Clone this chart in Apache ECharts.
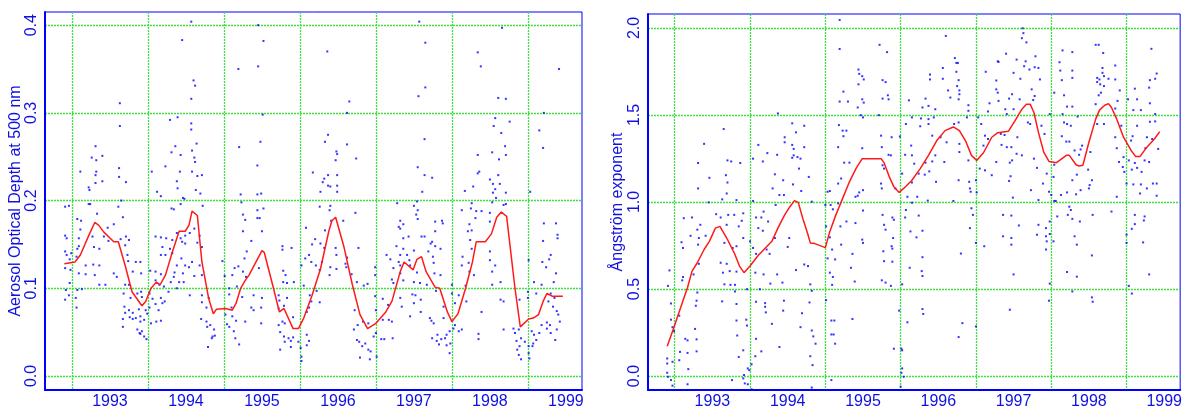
<!DOCTYPE html>
<html>
<head>
<meta charset="utf-8">
<script src="https://cdn.jsdelivr.net/npm/echarts@6.0.0/dist/echarts.min.js"></script>
<style>
html,body{margin:0;padding:0;background:#fff;}
#chart{width:1185px;height:410px;}
</style>
</head>
<body>
<div id="chart"></div>
<script>
// tick positions
var yearLines = [1993, 1994, 1995, 1996, 1997, 1998, 1999];
var yearLabels = [1993.5, 1994.5, 1995.5, 1996.5, 1997.5, 1998.5, 1999.5];
var aodTicks = [0, 0.1, 0.2, 0.3, 0.4];
var angTicks = [0, 0.5, 1, 1.5, 2];

// aerosol optical depth, smoothed curve
var aodSmooth = [
[1992.90,0.128],[1993.04,0.130],[1993.11,0.138],[1993.22,0.160],[1993.30,0.175],[1993.35,0.172],
[1993.42,0.164],[1993.55,0.153],[1993.61,0.153],[1993.70,0.126],[1993.79,0.096],[1993.92,0.080],
[1993.97,0.085],[1994.04,0.100],[1994.11,0.107],[1994.16,0.104],[1994.23,0.115],[1994.32,0.141],
[1994.41,0.165],[1994.49,0.165],[1994.54,0.172],[1994.58,0.188],[1994.65,0.183],[1994.71,0.130],
[1994.80,0.088],[1994.86,0.071],[1994.90,0.076],[1995.02,0.077],[1995.11,0.075],[1995.16,0.083],
[1995.22,0.100],[1995.28,0.109],[1995.33,0.115],[1995.50,0.143],[1995.53,0.141],[1995.64,0.104],
[1995.73,0.073],[1995.79,0.077],[1995.91,0.054],[1995.98,0.054],[1996.05,0.066],[1996.16,0.092],
[1996.27,0.122],[1996.38,0.165],[1996.42,0.177],[1996.47,0.181],[1996.58,0.147],[1996.69,0.104],
[1996.79,0.070],[1996.89,0.054],[1997.00,0.060],[1997.13,0.073],[1997.21,0.085],[1997.32,0.119],
[1997.37,0.130],[1997.49,0.121],[1997.54,0.133],[1997.60,0.136],[1997.66,0.119],[1997.78,0.101],
[1997.84,0.100],[1997.94,0.073],[1998.00,0.062],[1998.08,0.071],[1998.18,0.100],[1998.27,0.130],
[1998.32,0.153],[1998.44,0.153],[1998.52,0.162],[1998.59,0.181],[1998.65,0.187],[1998.72,0.182],
[1998.83,0.100],[1998.90,0.056],[1999.01,0.065],[1999.07,0.066],[1999.14,0.070],[1999.20,0.085],
[1999.25,0.094],[1999.32,0.091],[1999.46,0.091]
];

// aerosol optical depth, daily values 1992-1994
var aodDots1 = [
[1994.57,0.404],[1994.45,0.383],[1994.60,0.337],[1994.62,0.331],[1994.57,0.316],[1993.63,0.311],
[1994.39,0.295],[1994.29,0.292],[1994.57,0.288],[1993.63,0.285],[1994.57,0.281],[1994.64,0.265],
[1994.36,0.262],[1993.31,0.262],[1994.31,0.255],[1994.58,0.257],[1994.43,0.252],[1993.40,0.251],
[1993.26,0.249],[1994.61,0.249],[1993.32,0.246],[1994.62,0.244],[1994.23,0.239],[1993.62,0.237],
[1993.11,0.233],[1994.05,0.233],[1993.32,0.233],[1994.42,0.233],[1994.58,0.233],[1993.31,0.229],
[1993.62,0.227],[1994.65,0.228],[1994.71,0.229],[1994.38,0.222],[1993.40,0.222],[1993.31,0.220],
[1993.71,0.221],[1993.22,0.215],[1994.39,0.214],[1993.23,0.212],[1994.12,0.210],[1994.63,0.212],
[1994.69,0.208],[1994.17,0.205],[1994.48,0.202],[1993.65,0.200],[1994.46,0.203],[1993.22,0.196],
[1993.24,0.196],[1994.43,0.196],[1993.61,0.193],[1992.96,0.194],[1992.91,0.193],[1994.31,0.191],
[1994.34,0.190],[1994.72,0.194],[1993.33,0.185],[1993.12,0.177],[1993.07,0.179],[1993.67,0.181],
[1993.47,0.169],[1993.55,0.173],[1993.11,0.167],[1992.91,0.160],[1992.93,0.157],[1993.27,0.159],
[1993.42,0.159],[1994.10,0.159],[1994.24,0.157],[1994.17,0.158],[1993.71,0.159],[1993.64,0.156],
[1994.32,0.155],[1993.75,0.155],[1993.09,0.157],[1994.38,0.163],[1994.43,0.157],[1994.49,0.160],
[1994.55,0.163],[1994.61,0.168],[1994.68,0.160],[1993.48,0.154],[1993.09,0.148],[1993.07,0.145],
[1993.70,0.149],[1993.29,0.147],[1993.36,0.145],[1994.49,0.151],[1994.45,0.153],[1994.65,0.152],
[1994.71,0.147],[1994.19,0.147],[1994.29,0.145],[1992.91,0.142],[1992.93,0.138],[1992.99,0.140],
[1993.06,0.136],[1993.73,0.138],[1994.17,0.138],[1994.23,0.138],[1994.32,0.140],[1994.44,0.134],
[1994.58,0.130],[1994.68,0.126],[1992.97,0.133],[1993.74,0.131],[1993.84,0.130],[1993.90,0.130],
[1993.18,0.126],[1993.28,0.127],[1993.36,0.126],[1994.38,0.126],[1994.49,0.126],[1994.54,0.124],
[1992.91,0.123],[1992.98,0.121],[1993.09,0.117],[1993.18,0.116],[1993.30,0.115],[1993.55,0.117],
[1993.59,0.113],[1993.80,0.119],[1993.91,0.117],[1994.03,0.120],[1994.10,0.119],[1994.17,0.116],
[1994.35,0.118],[1994.46,0.117],[1994.34,0.113],[1994.61,0.114],[1994.71,0.115],[1992.97,0.106],
[1993.44,0.104],[1993.36,0.104],[1993.70,0.104],[1993.75,0.104],[1994.10,0.109],[1994.15,0.104],
[1994.21,0.102],[1994.27,0.096],[1994.30,0.107],[1994.41,0.107],[1994.47,0.107],[1994.38,0.100],
[1992.92,0.098],[1993.07,0.098],[1993.13,0.099],[1992.96,0.092],[1993.05,0.089],[1992.91,0.087],
[1993.06,0.078],[1993.86,0.094],[1993.91,0.096],[1994.02,0.094],[1993.92,0.090],[1993.77,0.089],
[1993.68,0.094],[1994.06,0.088],[1994.17,0.089],[1994.19,0.083],[1994.10,0.082],[1994.22,0.085],
[1994.55,0.092],[1994.71,0.092],[1994.71,0.084],[1994.77,0.078],[1994.80,0.089],[1993.69,0.079],
[1993.75,0.075],[1993.70,0.072],[1993.80,0.072],[1993.88,0.076],[1993.97,0.075],[1994.02,0.078],
[1993.99,0.071],[1994.14,0.075],[1993.76,0.067],[1993.80,0.065],[1993.84,0.066],[1993.90,0.068],
[1993.95,0.064],[1993.90,0.062],[1993.67,0.065],[1994.04,0.060],[1994.11,0.062],[1994.17,0.063],
[1994.70,0.065],[1994.77,0.062],[1994.78,0.056],[1994.82,0.058],[1994.87,0.053],[1994.85,0.045],
[1994.88,0.046],[1994.84,0.043],[1994.79,0.033],[1993.67,0.056],[1993.86,0.053],[1993.89,0.049],
[1993.92,0.051],[1993.95,0.045],[1993.98,0.042],[1993.90,0.048]
];

// aerosol optical depth, daily values 1995-1996
var aodDots2 = [
[1995.45,0.400],[1995.52,0.382],[1995.19,0.350],[1995.45,0.353],[1996.36,0.370],[1996.65,0.313],
[1996.62,0.300],[1995.51,0.298],[1996.37,0.275],[1996.33,0.267],[1995.48,0.267],[1995.20,0.261],
[1996.62,0.264],[1996.48,0.256],[1996.49,0.253],[1996.74,0.248],[1996.47,0.246],[1995.44,0.240],
[1996.17,0.232],[1996.37,0.229],[1996.32,0.225],[1996.49,0.229],[1996.30,0.221],[1996.37,0.217],
[1996.40,0.216],[1996.49,0.217],[1996.27,0.210],[1996.49,0.210],[1995.22,0.207],[1995.44,0.207],
[1995.49,0.208],[1995.23,0.198],[1995.25,0.184],[1995.44,0.189],[1995.52,0.191],[1996.26,0.193],
[1996.40,0.194],[1996.39,0.189],[1996.73,0.186],[1997.28,0.197],[1995.28,0.178],[1995.44,0.180],
[1995.47,0.180],[1996.41,0.177],[1996.57,0.177],[1997.32,0.177],[1995.25,0.165],[1995.50,0.165],
[1996.08,0.169],[1996.33,0.166],[1997.30,0.170],[1995.36,0.154],[1996.20,0.156],[1996.27,0.151],
[1995.77,0.148],[1995.89,0.146],[1996.16,0.150],[1996.32,0.146],[1996.47,0.146],[1996.77,0.146],
[1997.27,0.148],[1995.30,0.142],[1995.27,0.134],[1995.77,0.144],[1996.12,0.138],[1996.07,0.134],
[1996.15,0.130],[1996.48,0.138],[1996.62,0.135],[1996.60,0.128],[1997.14,0.138],[1997.19,0.133],
[1997.30,0.130],[1994.98,0.131],[1995.19,0.125],[1995.14,0.123],[1995.46,0.123],[1996.02,0.126],
[1996.21,0.126],[1996.26,0.121],[1996.29,0.130],[1996.40,0.124],[1996.48,0.122],[1996.61,0.124],
[1996.99,0.124],[1997.23,0.123],[1995.25,0.119],[1995.78,0.120],[1995.81,0.115],[1995.01,0.114],
[1995.11,0.115],[1995.29,0.113],[1996.39,0.115],[1996.68,0.116],[1996.99,0.115],[1997.21,0.110],
[1995.07,0.100],[1995.17,0.102],[1995.78,0.107],[1995.83,0.106],[1995.92,0.107],[1996.05,0.103],
[1996.22,0.097],[1996.75,0.107],[1996.84,0.103],[1996.89,0.105],[1997.23,0.106],[1995.07,0.093],
[1995.24,0.090],[1995.39,0.092],[1995.50,0.089],[1995.72,0.092],[1995.83,0.089],[1996.13,0.092],
[1996.15,0.085],[1996.26,0.084],[1996.99,0.091],[1997.09,0.088],[1997.16,0.081],[1995.10,0.078],
[1995.36,0.078],[1995.49,0.078],[1995.39,0.075],[1995.73,0.086],[1995.79,0.080],[1995.72,0.077],
[1996.09,0.073],[1996.12,0.078],[1996.72,0.075],[1997.00,0.075],[1995.02,0.070],[1995.11,0.068],
[1995.16,0.063],[1995.28,0.062],[1995.49,0.060],[1995.04,0.059],[1995.07,0.056],[1995.77,0.062],
[1995.72,0.058],[1995.80,0.060],[1995.91,0.067],[1996.83,0.062],[1996.90,0.060],[1996.76,0.058],
[1997.09,0.064],[1997.17,0.064],[1997.21,0.062],[1995.13,0.051],[1995.15,0.043],[1995.20,0.036],
[1995.74,0.050],[1995.79,0.045],[1995.85,0.043],[1995.88,0.040],[1995.91,0.044],[1995.80,0.039],
[1995.74,0.030],[1995.88,0.033],[1995.98,0.039],[1996.01,0.032],[1996.02,0.022],[1996.02,0.017],
[1996.09,0.047],[1996.12,0.040],[1996.09,0.035],[1996.71,0.053],[1996.75,0.041],[1996.78,0.039],
[1996.82,0.034],[1996.86,0.037],[1996.90,0.030],[1996.93,0.028],[1996.79,0.021],[1996.92,0.019],
[1997.01,0.022],[1997.00,0.049],[1997.07,0.042],[1997.11,0.042],[1997.22,0.043],[1996.97,0.045]
];

// aerosol optical depth, daily values 1997-1999
var aodDots3 = [
[1997.57,0.404],[1998.66,0.397],[1997.65,0.380],[1998.34,0.369],[1998.38,0.353],[1999.41,0.350],
[1997.65,0.329],[1997.56,0.319],[1998.61,0.317],[1998.71,0.316],[1999.21,0.300],[1998.57,0.294],
[1998.76,0.290],[1998.55,0.285],[1999.15,0.280],[1998.65,0.277],[1997.64,0.270],[1998.70,0.262],
[1999.20,0.260],[1998.34,0.252],[1998.53,0.255],[1998.71,0.252],[1998.62,0.247],[1997.55,0.238],
[1998.36,0.233],[1998.34,0.231],[1997.64,0.229],[1997.74,0.226],[1998.61,0.229],[1998.50,0.224],
[1998.54,0.219],[1998.63,0.219],[1998.28,0.216],[1998.57,0.213],[1997.61,0.210],[1998.17,0.211],
[1999.03,0.210],[1998.54,0.209],[1998.71,0.209],[1998.58,0.203],[1997.54,0.199],[1998.53,0.198],
[1998.68,0.195],[1997.50,0.194],[1998.26,0.197],[1998.71,0.196],[1997.55,0.189],[1998.13,0.189],
[1998.25,0.191],[1998.32,0.188],[1998.39,0.188],[1997.53,0.184],[1997.55,0.179],[1998.31,0.180],
[1998.50,0.186],[1997.87,0.177],[1997.78,0.176],[1997.88,0.174],[1998.50,0.176],[1999.21,0.174],
[1999.37,0.174],[1998.23,0.173],[1997.36,0.173],[1997.32,0.168],[1998.21,0.165],[1997.78,0.165],
[1998.26,0.166],[1999.39,0.161],[1997.36,0.157],[1997.43,0.159],[1997.60,0.159],[1997.64,0.159],
[1997.74,0.153],[1997.72,0.151],[1998.24,0.155],[1997.78,0.148],[1999.39,0.157],[1999.20,0.154],
[1997.36,0.145],[1997.32,0.138],[1997.41,0.138],[1997.44,0.132],[1997.50,0.143],[1997.69,0.142],
[1997.85,0.145],[1997.75,0.136],[1998.14,0.136],[1998.26,0.145],[1998.50,0.142],[1998.50,0.132],
[1999.01,0.132],[1999.30,0.138],[1997.32,0.126],[1997.45,0.126],[1997.76,0.129],[1998.22,0.129],
[1998.13,0.126],[1998.57,0.126],[1999.19,0.130],[1999.28,0.133],[1999.24,0.124],[1998.53,0.119],
[1997.32,0.117],[1997.54,0.118],[1997.77,0.117],[1997.85,0.115],[1998.23,0.119],[1998.29,0.115],
[1999.37,0.117],[1997.36,0.109],[1997.50,0.107],[1997.58,0.106],[1997.67,0.104],[1998.00,0.104],
[1998.18,0.103],[1998.53,0.104],[1998.64,0.107],[1999.34,0.107],[1999.08,0.107],[1999.18,0.104],
[1997.48,0.093],[1997.52,0.092],[1997.79,0.097],[1998.00,0.094],[1998.09,0.092],[1999.00,0.096],
[1999.11,0.094],[1999.30,0.094],[1999.35,0.089],[1997.32,0.089],[1997.59,0.087],[1997.50,0.083],
[1998.64,0.087],[1998.68,0.085],[1998.19,0.085],[1998.04,0.083],[1999.27,0.085],[1999.33,0.079],
[1997.34,0.079],[1997.89,0.079],[1997.59,0.073],[1998.39,0.073],[1998.89,0.087],[1999.00,0.089],
[1999.38,0.074],[1999.40,0.070],[1997.45,0.068],[1997.71,0.066],[1997.73,0.063],[1997.76,0.060],
[1997.89,0.066],[1998.04,0.058],[1998.02,0.054],[1998.09,0.051],[1998.13,0.053],[1997.97,0.051],
[1997.93,0.047],[1997.81,0.047],[1997.86,0.042],[1997.80,0.040],[1997.83,0.036],[1997.91,0.043],
[1997.74,0.043],[1997.93,0.035],[1997.98,0.037],[1997.97,0.026],[1998.35,0.048],[1998.35,0.042],
[1998.68,0.053],[1998.81,0.054],[1998.83,0.049],[1998.88,0.053],[1998.91,0.043],[1998.85,0.040],
[1998.89,0.034],[1998.86,0.030],[1998.88,0.024],[1998.91,0.019],[1998.96,0.039],[1999.01,0.034],
[1999.02,0.020],[1999.01,0.026],[1999.05,0.051],[1999.08,0.047],[1999.11,0.041],[1999.07,0.037],
[1999.06,0.034],[1999.15,0.049],[1999.18,0.058],[1999.25,0.061],[1999.25,0.054],[1999.29,0.058],
[1999.38,0.053],[1999.36,0.041],[1999.42,0.062],[1999.30,0.049]
];

// angstrom exponent, smoothed curve
var angSmooth = [
[1992.90,0.171],[1992.99,0.281],[1993.08,0.395],[1993.17,0.509],[1993.23,0.603],[1993.30,0.651],
[1993.39,0.727],[1993.46,0.774],[1993.54,0.850],[1993.60,0.860],[1993.69,0.793],[1993.79,0.708],
[1993.86,0.632],[1993.92,0.594],[1994.00,0.632],[1994.11,0.694],[1994.29,0.774],[1994.37,0.850],
[1994.46,0.926],[1994.53,0.973],[1994.59,1.008],[1994.64,0.998],[1994.70,0.907],[1994.77,0.812],
[1994.80,0.765],[1994.86,0.761],[1995.00,0.738],[1995.06,0.831],[1995.14,0.926],[1995.23,1.021],
[1995.32,1.116],[1995.41,1.195],[1995.49,1.249],[1995.74,1.249],[1995.78,1.226],[1995.85,1.144],
[1995.91,1.087],[1995.98,1.055],[1996.04,1.078],[1996.15,1.125],[1996.26,1.192],[1996.37,1.268],
[1996.48,1.353],[1996.59,1.410],[1996.70,1.431],[1996.78,1.410],[1996.86,1.353],[1996.94,1.268],
[1997.01,1.239],[1997.10,1.283],[1997.21,1.372],[1997.29,1.398],[1997.43,1.406],[1997.52,1.467],
[1997.61,1.533],[1997.67,1.562],[1997.72,1.562],[1997.77,1.514],[1997.83,1.400],[1997.90,1.287],
[1997.97,1.233],[1998.07,1.226],[1998.20,1.268],[1998.24,1.268],[1998.33,1.214],[1998.37,1.207],
[1998.42,1.211],[1998.50,1.343],[1998.59,1.476],[1998.64,1.528],[1998.71,1.556],[1998.76,1.565],
[1998.80,1.543],[1998.87,1.476],[1998.96,1.372],[1999.06,1.296],[1999.12,1.262],[1999.18,1.262],
[1999.27,1.315],[1999.37,1.362],[1999.44,1.404]
];

// angstrom exponent, daily values 1992-1994
var angDots1 = [
[1994.37,1.509],[1993.65,1.419],[1994.56,1.452],[1994.72,1.438],[1994.61,1.400],[1994.46,1.372],
[1994.46,1.343],[1993.39,1.334],[1994.11,1.328],[1994.56,1.328],[1994.72,1.315],[1994.58,1.305],
[1994.23,1.281],[1994.36,1.271],[1994.58,1.268],[1994.63,1.258],[1994.04,1.249],[1993.70,1.239],
[1993.75,1.233],[1993.87,1.224],[1994.17,1.233],[1994.67,1.249],[1993.31,1.224],[1994.56,1.254],
[1994.65,1.192],[1993.68,1.154],[1993.46,1.139],[1994.33,1.159],[1994.44,1.125],[1994.78,1.144],
[1993.70,1.112],[1993.31,1.078],[1994.57,1.101],[1993.69,1.049],[1994.30,1.078],[1994.68,1.063],
[1994.39,1.040],[1994.45,1.040],[1993.63,1.015],[1993.82,1.011],[1994.04,1.006],[1993.45,0.998],
[1994.34,0.983],[1994.18,0.945],[1994.82,1.002],[1993.12,0.907],[1993.23,0.911],[1993.55,0.930],
[1993.71,0.926],[1993.61,0.911],[1993.79,0.926],[1993.91,0.935],[1994.08,0.911],[1994.15,0.911],
[1994.24,0.888],[1993.89,0.892],[1993.69,0.869],[1993.85,0.860],[1994.11,0.850],[1994.17,0.835],
[1993.34,0.869],[1993.30,0.841],[1993.21,0.806],[1993.32,0.793],[1993.41,0.806],[1993.09,0.769],
[1993.11,0.736],[1993.31,0.755],[1993.66,0.765],[1993.77,0.736],[1993.82,0.746],[1993.91,0.793],
[1994.00,0.774],[1994.04,0.736],[1994.08,0.702],[1994.22,0.727],[1994.33,0.793],[1994.52,0.793],
[1994.50,0.742],[1994.26,0.702],[1993.61,0.651],[1993.69,0.645],[1993.32,0.645],[1994.72,0.641],
[1994.77,0.632],[1993.73,0.603],[1993.82,0.600],[1993.64,0.594],[1993.25,0.584],[1994.07,0.594],
[1994.18,0.584],[1994.36,0.584],[1994.61,0.609],[1993.10,0.550],[1993.11,0.569],[1992.93,0.607],
[1992.91,0.518],[1993.66,0.527],[1993.74,0.524],[1993.80,0.524],[1994.27,0.531],[1994.43,0.537],
[1994.80,0.527],[1993.30,0.480],[1993.80,0.486],[1993.96,0.499],[1994.13,0.499],[1994.82,0.490],
[1992.95,0.417],[1993.29,0.433],[1993.28,0.404],[1993.63,0.429],[1993.82,0.414],[1994.08,0.427],
[1994.20,0.419],[1994.45,0.433],[1994.79,0.423],[1994.20,0.398],[1994.21,0.366],[1994.44,0.376],
[1994.69,0.361],[1992.95,0.324],[1993.06,0.347],[1993.82,0.319],[1993.95,0.324],[1994.29,0.300],
[1994.67,0.281],[1992.97,0.281],[1992.99,0.258],[1993.27,0.271],[1993.96,0.290],[1994.82,0.262],
[1994.84,0.228],[1993.83,0.233],[1993.14,0.214],[1993.17,0.205],[1993.29,0.211],[1994.08,0.214],
[1994.87,0.186],[1994.39,0.167],[1993.07,0.139],[1993.17,0.133],[1993.29,0.142],[1993.91,0.148],
[1994.15,0.142],[1993.85,0.110],[1993.06,0.091],[1992.90,0.101],[1992.90,0.072],[1992.97,0.082],
[1994.07,0.114],[1994.80,0.114],[1994.02,0.068],[1994.83,0.063],[1993.18,0.040],[1992.90,0.019],
[1992.91,-0.004],[1992.95,-0.023],[1992.97,-0.055],[1993.97,0.044],[1993.99,0.034],[1993.92,0.006],
[1993.93,-0.042],[1993.97,-0.047],[1993.76,-0.023],[1993.17,-0.047],[1994.82,-0.066],[1994.02,-0.076],
[1993.91,-0.013]
];

// angstrom exponent, daily values 1995-1996
var angDots2 = [
[1995.19,2.046],[1996.60,1.954],[1995.19,1.879],[1995.72,1.903],[1995.82,1.861],[1996.72,1.827],
[1997.29,1.808],[1996.74,1.799],[1996.76,1.799],[1996.56,1.770],[1995.44,1.761],[1995.45,1.736],
[1995.49,1.723],[1996.74,1.748],[1996.39,1.732],[1997.13,1.748],[1995.51,1.704],[1995.76,1.700],
[1995.80,1.689],[1996.39,1.704],[1996.56,1.708],[1996.77,1.700],[1997.27,1.698],[1995.44,1.676],
[1996.75,1.666],[1996.78,1.641],[1996.63,1.641],[1995.24,1.634],[1997.27,1.647],[1995.83,1.613],
[1996.78,1.619],[1996.66,1.600],[1995.84,1.590],[1995.49,1.590],[1996.11,1.584],[1996.33,1.594],
[1996.77,1.590],[1997.29,1.628],[1995.19,1.577],[1995.30,1.577],[1995.76,1.594],[1995.51,1.571],
[1996.90,1.556],[1997.18,1.567],[1996.37,1.552],[1996.29,1.543],[1996.46,1.533],[1995.43,1.543],
[1996.90,1.524],[1997.16,1.520],[1995.47,1.499],[1995.71,1.499],[1995.50,1.486],[1996.15,1.486],
[1996.27,1.480],[1996.37,1.476],[1996.44,1.486],[1996.88,1.486],[1997.03,1.486],[1997.07,1.448],
[1996.71,1.448],[1996.77,1.457],[1996.26,1.435],[1996.07,1.448],[1996.37,1.448],[1995.18,1.442],
[1995.23,1.410],[1995.28,1.410],[1995.24,1.378],[1995.74,1.381],[1995.88,1.372],[1995.99,1.376],
[1996.42,1.381],[1996.53,1.372],[1996.14,1.324],[1997.12,1.381],[1997.16,1.362],[1995.49,1.309],
[1995.17,1.315],[1995.75,1.315],[1996.61,1.343],[1996.78,1.334],[1997.10,1.324],[1996.06,1.271],
[1996.15,1.268],[1996.46,1.268],[1995.84,1.271],[1995.87,1.268],[1996.78,1.287],[1996.90,1.239],
[1995.32,1.226],[1995.25,1.226],[1996.33,1.226],[1996.58,1.230],[1996.42,1.233],[1995.76,1.211],
[1995.78,1.192],[1996.18,1.220],[1997.27,1.230],[1997.05,1.192],[1997.12,1.182],[1996.02,1.163],
[1996.24,1.163],[1996.32,1.157],[1996.38,1.176],[1996.77,1.125],[1997.00,1.125],[1997.21,1.154],
[1995.21,1.135],[1995.17,1.106],[1995.74,1.106],[1996.15,1.112],[1996.47,1.116],[1996.91,1.116],
[1995.75,1.078],[1995.93,1.078],[1995.03,1.059],[1995.06,1.063],[1995.50,1.068],[1995.45,1.055],
[1996.09,1.030],[1996.92,1.078],[1996.93,1.059],[1995.43,1.036],[1995.40,1.030],[1996.70,1.006],
[1996.15,0.996],[1996.22,1.030],[1996.36,1.008],[1997.01,1.055],[1995.00,0.983],[1995.07,0.983],
[1995.10,0.958],[1995.17,0.992],[1995.50,0.951],[1995.76,0.926],[1996.07,0.954],[1996.94,0.964],
[1996.96,0.926],[1995.89,0.911],[1995.91,0.898],[1996.24,0.922],[1996.06,0.911],[1995.28,0.888],
[1995.40,0.879],[1995.20,0.860],[1995.78,0.869],[1996.92,0.850],[1995.80,0.841],[1996.13,0.831],
[1995.01,0.860],[1995.06,0.797],[1996.29,0.835],[1996.21,0.797],[1995.90,0.793],[1995.49,0.784],
[1995.50,0.765],[1995.21,0.755],[1997.00,0.765],[1997.11,0.746],[1995.88,0.746],[1995.89,0.732],
[1995.09,0.727],[1995.13,0.670],[1995.03,0.676],[1996.29,0.683],[1995.77,0.717],[1995.36,0.702],
[1995.89,0.657],[1995.78,0.660],[1996.80,0.704],[1996.12,0.622],[1995.34,0.622],[1996.28,0.603],
[1995.06,0.594],[1996.29,0.575],[1995.10,0.569],[1995.39,0.543],[1995.75,0.550],[1995.80,0.537],
[1995.09,0.524],[1995.87,0.518],[1996.02,0.527],[1995.01,0.436],[1995.98,0.376],[1996.29,0.385],
[1996.30,0.357],[1995.36,0.328],[1996.09,0.309],[1995.08,0.319],[1995.12,0.319],[1996.82,0.304],
[1997.00,0.285],[1995.08,0.239],[1995.11,0.239],[1995.13,0.186],[1996.77,0.224],[1995.91,0.157],
[1996.01,0.157],[1996.02,0.148],[1996.02,0.044],[1996.01,0.019],[1996.04,-0.004],[1995.08,-0.023],
[1996.00,-0.061]
];

// angstrom exponent, daily values 1997-1999
var angDots3 = [
[1997.62,1.998],[1997.63,1.970],[1997.61,1.941],[1997.67,1.917],[1998.59,1.903],[1998.63,1.903],
[1999.33,1.880],[1998.15,1.871],[1998.28,1.861],[1998.69,1.856],[1997.79,1.837],[1997.40,1.852],
[1997.54,1.818],[1997.66,1.808],[1997.30,1.805],[1998.11,1.803],[1997.64,1.780],[1997.78,1.774],
[1998.85,1.784],[1998.68,1.770],[1997.71,1.761],[1997.83,1.770],[1998.28,1.755],[1998.12,1.755],
[1998.68,1.742],[1997.50,1.742],[1998.61,1.713],[1998.64,1.704],[1998.70,1.723],[1999.40,1.738],
[1999.38,1.708],[1997.59,1.708],[1997.85,1.704],[1998.14,1.700],[1998.28,1.713],[1998.76,1.708],
[1998.85,1.704],[1999.31,1.700],[1998.61,1.689],[1998.65,1.676],[1998.70,1.666],[1999.30,1.657],
[1999.11,1.651],[1997.74,1.647],[1998.04,1.628],[1998.17,1.613],[1998.66,1.628],[1998.63,1.613],
[1998.91,1.641],[1997.48,1.619],[1997.44,1.594],[1997.58,1.590],[1997.76,1.586],[1997.78,1.609],
[1999.14,1.590],[1999.02,1.590],[1999.31,1.567],[1997.30,1.581],[1998.59,1.562],[1998.88,1.581],
[1998.21,1.548],[1998.28,1.548],[1998.85,1.537],[1999.09,1.528],[1999.19,1.528],[1997.39,1.533],
[1997.50,1.533],[1997.41,1.505],[1997.98,1.505],[1998.15,1.505],[1999.38,1.505],[1998.35,1.491],
[1999.31,1.461],[1999.38,1.463],[1998.17,1.457],[1998.21,1.448],[1997.69,1.457],[1997.72,1.448],
[1998.61,1.448],[1998.70,1.448],[1998.26,1.438],[1998.93,1.438],[1999.14,1.438],[1997.87,1.438],
[1997.33,1.391],[1997.38,1.385],[1997.55,1.372],[1999.27,1.372],[1999.34,1.362],[1997.91,1.391],
[1998.14,1.378],[1999.08,1.378],[1998.85,1.372],[1999.06,1.353],[1998.20,1.347],[1998.24,1.347],
[1997.41,1.315],[1997.34,1.328],[1997.47,1.315],[1998.41,1.324],[1999.42,1.305],[1999.25,1.309],
[1998.31,1.296],[1998.39,1.302],[1998.87,1.309],[1997.54,1.277],[1997.61,1.268],[1998.37,1.271],
[1998.52,1.287],[1997.45,1.226],[1997.48,1.239],[1999.03,1.239],[1999.24,1.239],[1998.96,1.258],
[1997.77,1.249],[1998.04,1.214],[1998.90,1.230],[1998.95,1.201],[1999.11,1.224],[1999.14,1.196],
[1999.07,1.186],[1999.20,1.173],[1999.30,1.230],[1998.49,1.186],[1997.81,1.196],[1997.94,1.163],
[1998.34,1.157],[1998.97,1.173],[1997.46,1.148],[1997.44,1.121],[1998.03,1.144],[1997.89,1.106],
[1998.54,1.125],[1998.51,1.097],[1998.28,1.125],[1999.00,1.106],[1999.09,1.101],[1999.19,1.101],
[1999.35,1.106],[1999.40,1.106],[1999.27,1.078],[1997.73,1.068],[1998.39,1.068],[1998.50,1.078],
[1999.18,1.049],[1999.40,1.036],[1997.97,1.059],[1998.00,1.040],[1998.13,1.040],[1998.21,1.055],
[1998.33,1.044],[1997.49,1.025],[1998.87,1.030],[1997.83,1.011],[1998.04,1.006],[1998.24,0.973],
[1998.26,0.954],[1998.22,0.926],[1998.28,0.903],[1998.06,1.006],[1998.80,0.945],[1999.11,0.926],
[1999.24,0.917],[1999.23,0.894],[1997.36,0.926],[1997.47,0.922],[1997.98,0.888],[1998.08,0.917],
[1998.38,0.888],[1998.55,0.926],[1997.83,0.869],[1997.57,0.865],[1997.93,0.850],[1999.11,0.873],
[1999.07,0.846],[1997.36,0.803],[1997.47,0.793],[1997.81,0.812],[1997.93,0.803],[1997.98,0.816],
[1998.31,0.803],[1997.94,0.774],[1998.03,0.774],[1999.00,0.812],[1997.47,0.755],[1998.34,0.755],
[1999.22,0.768],[1998.54,0.693],[1997.93,0.727],[1999.00,0.765],[1997.50,0.584],[1998.21,0.598],
[1998.34,0.571],[1999.30,0.584],[1997.98,0.531],[1999.07,0.474],[1999.03,0.518],[1998.28,0.486],
[1997.97,0.433],[1998.54,0.452],[1998.55,0.427],[1997.45,0.381]
];

var blue = '#0000ff';
var textBlue = '#1010e0';
var gridGreen = '#3fe03f';

function xAxisFor(idx){
  return {
    gridIndex: idx, type: 'value', min: 1992.645, max: 1999.712,
    axisLine: {show: true, onZero: false, lineStyle: {color: blue, width: 2}},
    axisTick: {show: false, customValues: yearLines},
    splitLine: {show: true, lineStyle: {color: gridGreen, type: [2, 1], width: 1.3}},
    axisLabel: {customValues: yearLabels, color: textBlue, fontSize: 16, margin: 4,
      fontFamily: 'Liberation Sans',
      formatter: function(v){ return String(Math.floor(v)); }}
  };
}

function yAxisFor(idx, lo, hi, ticks, title, gap){
  return {
    gridIndex: idx, type: 'value', min: lo, max: hi,
    name: title, nameLocation: 'middle', nameRotate: 90, nameGap: gap,
    nameTextStyle: {color: textBlue, fontSize: 16, fontFamily: 'Liberation Sans'},
    axisLine: {show: true, onZero: false, lineStyle: {color: blue, width: 2}},
    axisTick: {show: false, customValues: ticks},
    splitLine: {show: true, lineStyle: {color: gridGreen, type: [2, 1], width: 1.3}},
    axisLabel: {customValues: ticks, rotate: 90, color: textBlue, fontSize: 16, margin: 5,
      fontFamily: 'Liberation Sans',
      formatter: function(v){ return v.toFixed(1); }}
  };
}

function dotSeries(idx, data){
  return {
    type: 'scatter', xAxisIndex: idx, yAxisIndex: idx, data: data,
    symbol: 'rect', symbolSize: [2, 2], itemStyle: {color: blue}, z: 2
  };
}

function lineSeries(idx, data){
  return {
    type: 'line', xAxisIndex: idx, yAxisIndex: idx, data: data,
    showSymbol: false, symbol: 'none', lineStyle: {color: '#ff1a1a', width: 1.5}, z: 3
  };
}

var myChart = echarts.init(document.getElementById('chart'), null, {renderer: 'canvas'});
var option = {
  animation: false,
  backgroundColor: '#ffffff',
  grid: [
    {left: 45, right: 603, top: 12, bottom: 18, show: true, borderColor: blue, borderWidth: 1},
    {left: 648, right: 0, top: 14, bottom: 17, show: true, borderColor: blue, borderWidth: 1}
  ],
  xAxis: [xAxisFor(0), xAxisFor(1)],
  yAxis: [
    yAxisFor(0, -0.016, 0.415, aodTicks, 'Aerosol Optical Depth at 500 nm', 19),
    yAxisFor(1, -0.08, 2.08, angTicks, 'Ångström exponent', 22)
  ],
  series: [
    dotSeries(0, aodDots1.concat(aodDots2, aodDots3)),
    lineSeries(0, aodSmooth),
    dotSeries(1, angDots1.concat(angDots2, angDots3)),
    lineSeries(1, angSmooth)
  ]
};
myChart.setOption(option);
</script>
</body>
</html>
